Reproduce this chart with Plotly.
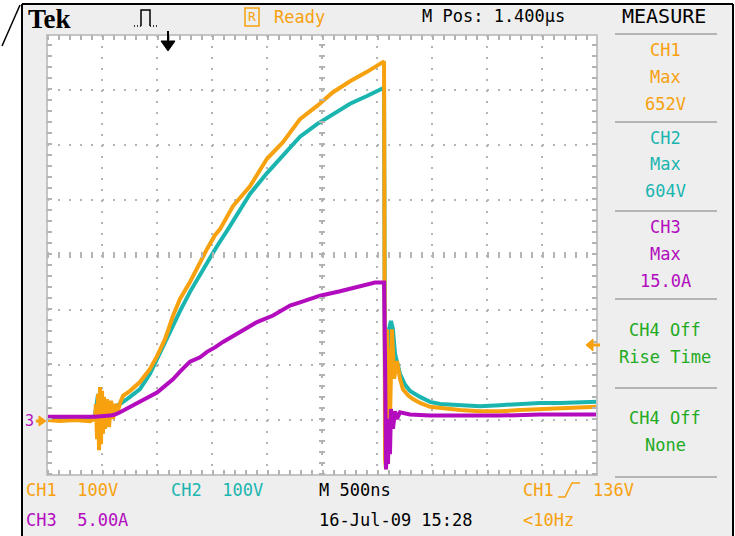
import plotly.graph_objects as go

# ---------------- data ----------------
# time in ns relative to the trigger point (500 ns/div, M Pos 1.400 us)
ch1_t = [-1100, -982, -845, -709, -664, -655, -645, -636, -627, -618, -609, -600, -591, -582,
         -573, -555, -536, -518, -500, -482, -455, -436, -409, -345, -255, -164, -100, -27,
         45, 109, 200, 291, 355, 427, 473, 591, 745, 900, 1045, 1200, 1355, 1500, 1655, 1809,
         1955, 1964, 1973, 1982, 1991, 2000, 2009, 2018, 2036, 2055, 2082, 2109, 2136, 2182,
         2227, 2291, 2382, 2473, 2655, 2836, 3018, 3200, 3382, 3564, 3745, 3900]
ch1_v = [0, -2, 0, -2, 2, 29, -35, 47, -55, 60, -44, 53, -25, 42,
         -16, 38, -13, 35, 2, 29, 16, 31, 44, 53, 69, 93, 116, 147,
         189, 220, 251, 287, 311, 336, 347, 389, 425, 475, 505, 547, 571, 596, 616, 633,
         649, 652, -71, -89, 165, -35, 129, 2, 165, 75, 107, 75, 56, 45,
         38, 31, 24, 22, 18, 16, 16, 18, 20, 22, 24, 24]

ch2_t = [-1100, -891, -709, -664, -636, -618, -591, -564, -527, -482, -436, -345, -255, -164,
         -100, -27, 45, 109, 200, 291, 355, 445, 536, 591, 745, 900, 1045, 1200, 1355, 1500,
         1655, 1809, 1955, 1964, 1973, 1982, 1991, 2009, 2027, 2045, 2064, 2091, 2109, 2155,
         2200, 2291, 2382, 2473, 2655, 2836, 3018, 3200, 3382, 3564, 3745, 3900]
ch2_v = [5, 5, 5, 7, 47, 29, 38, 20, 29, 24, 29, 42, 56, 84,
         111, 138, 171, 198, 233, 264, 287, 316, 344, 362, 411, 449, 480, 515, 538, 556,
         575, 589, 602, 604, 38, -44, 75, 165, 180, 165, 120, 102, 84, 64,
         53, 42, 33, 29, 27, 25, 27, 29, 31, 31, 33, 33]

ch3_t = [-1100, -891, -664, -527, -482, -436, -345, -255, -164, -100, -27, 45, 109, 200,
         291, 355, 427, 500, 655, 809, 955, 1109, 1200, 1382, 1564, 1745, 1882, 1955, 1964,
         1973, 1982, 1991, 2000, 2009, 2018, 2027, 2045, 2064, 2082, 2109, 2200, 2382, 2655,
         3018, 3382, 3745, 3900]
ch3_a = [0.3, 0.3, 0.3, 0.4, 0.5, 0.7, 1.2, 1.6, 2.1, 2.5, 3.1, 3.7, 4.4, 5.3,
         5.7, 6.2, 6.6, 7.1, 8.0, 8.9, 9.5, 10.4, 10.7, 11.3, 11.7, 12.2, 12.5, 12.5, 12.5,
         5.5, -4.5, -1.7, -4.0, 0.1, -3.1, 1.0, -0.8, 0.8, 0.1, 0.7, 0.5, 0.4, 0.4,
         0.4, 0.5, 0.5, 0.5]

x_range = [-1100, 3900]   # 10 div x 500 ns
v_range = [-100, 700]     # 8 div x 100 V
a_range = [-5, 35]        # 8 div x 5 A

measure_text = ["CH1", "Max", "652V", "CH2", "Max", "604V", "CH3", "Max", "15.0A",
                "CH4 Off", "Rise Time", "CH4 Off", "None"]

# ---------------- styling ----------------
ORANGE = "#f7a10f"
CYAN = "#1bb5b0"
PURPLE = "#b20cbe"
GREEN = "#22aa22"
GRID = "#b3b3b3"
PANEL = "#eeeeee"
MONO = "DejaVu Sans Mono"

W, H = 735, 536
L, R, T, B = 47, 597, 35, 475
PW, PH = R - L, B - T


def fx(x):
    return (x - L) / PW


def fy(y):
    return (B - y) / PH


def ann(text, x, y, color, size=17, anchor="left", family=MONO):
    return dict(text=text, x=fx(x), y=fy(y), xref="paper", yref="paper",
                xanchor=anchor, yanchor="middle", showarrow=False,
                font=dict(family=family, size=size, color=color))


def pline(x0, y0, x1, y1, color, width, dash="solid", layer="above"):
    return dict(type="line", xref="paper", yref="paper", x0=fx(x0), y0=fy(y0),
                x1=fx(x1), y1=fy(y1), layer=layer,
                line=dict(color=color, width=width, dash=dash))


def ppath(points, color, fill=None, width=1.5, close=False):
    d = "M " + " L ".join(f"{fx(x):.5f},{fy(y):.5f}" for x, y in points)
    if close:
        d += " Z"
    return dict(type="path", xref="paper", yref="paper", path=d, layer="above",
                fillcolor=fill if fill else "rgba(0,0,0,0)",
                line=dict(color=color, width=width))


fig = go.Figure()
fig.add_trace(go.Scatter(x=ch2_t, y=ch2_v, mode="lines", line=dict(color=CYAN, width=4),
                         hoverinfo="skip"))
fig.add_trace(go.Scatter(x=ch1_t, y=ch1_v, mode="lines", line=dict(color=ORANGE, width=4),
                         hoverinfo="skip"))
fig.add_trace(go.Scatter(x=ch3_t, y=ch3_a, mode="lines", yaxis="y2",
                         line=dict(color=PURPLE, width=4), hoverinfo="skip"))

shapes = []
# white outside of the instrument frame
shapes.append(dict(type="rect", xref="paper", yref="paper", x0=fx(0), x1=fx(21.5), y0=fy(536),
                   y1=fy(0), fillcolor="white", line=dict(width=0), layer="below"))
shapes.append(dict(type="rect", xref="paper", yref="paper", x0=fx(0), x1=fx(735), y0=fy(3.5),
                   y1=fy(0), fillcolor="white", line=dict(width=0), layer="below"))
shapes.append(dict(type="rect", xref="paper", yref="paper", x0=fx(734), x1=fx(735), y0=fy(536),
                   y1=fy(0), fillcolor="white", line=dict(width=0), layer="below"))
# graticule border
shapes.append(dict(type="rect", xref="paper", yref="paper", x0=0, x1=1, y0=0, y1=1,
                   line=dict(color="#c4c4c4", width=2), layer="above"))
# edge ticks
shapes.append(pline(L + 2.5, B, L + 2.5, T, GRID, 5, "2px,9px"))
shapes.append(pline(R - 2.5, B, R - 2.5, T, GRID, 5, "2px,9px"))
shapes.append(pline(L, T + 2.5, R, T + 2.5, GRID, 5, "2px,9px"))
shapes.append(pline(L, B - 2.5, R, B - 2.5, GRID, 5, "2px,9px"))
# centre line ticks
shapes.append(dict(type="line", xref="x", yref="y", x0=1400, x1=1400, y0=v_range[0],
                   y1=v_range[1], layer="above",
                   line=dict(color=GRID, width=6, dash="2px,9px")))
shapes.append(dict(type="line", xref="x", yref="y", x0=x_range[0], x1=x_range[1], y0=300,
                   y1=300, layer="above", line=dict(color=GRID, width=6, dash="2px,9px")))
# measure panel separators
for sy in [34, 122, 211, 299, 388, 477]:
    shapes.append(pline(615, sy, 717, sy, "#b4b4b4", 2))
# black instrument frame
shapes.append(pline(22, 4, 733, 4, "black", 2))
shapes.append(pline(22, 4, 22, 536, "black", 2))
shapes.append(pline(733, 4, 733, 536, "black", 2))
shapes.append(pline(2, 46, 20, 5, "black", 1.5))
# trigger icon
shapes.append(ppath([(141, 26), (141, 10), (150, 10), (150, 26)], "black", width=1.5))
shapes.append(pline(134, 26, 141, 26, "black", 1.5, "1px,2px"))
shapes.append(pline(150, 26, 158, 26, "black", 1.5, "1px,2px"))
# trigger position marker
shapes.append(pline(168, 31, 168, 44, "black", 2))
shapes.append(ppath([(161, 41), (175, 41), (168, 51)], "black", fill="black", width=1, close=True))
# "R" box
shapes.append(dict(type="rect", xref="paper", yref="paper", x0=fx(245), x1=fx(259),
                   y0=fy(26), y1=fy(8), line=dict(color=ORANGE, width=1.5), layer="above"))
# rising edge symbol
shapes.append(ppath([(558, 497), (565, 497), (572, 483), (580, 483)], ORANGE, width=1.5))
# ground marker arrow (left) and trigger level arrow (right)
shapes.append(ppath([(36, 421), (39, 421)], ORANGE, width=3))
shapes.append(ppath([(39, 416), (46, 421), (39, 426)], ORANGE, fill=ORANGE, width=1, close=True))
shapes.append(ppath([(593, 345), (600, 345)], ORANGE, width=3))
shapes.append(ppath([(593, 339), (586, 345), (593, 351)], ORANGE, fill=ORANGE, width=1, close=True))

nb = "\u00a0"
annotations = [
    ann("<b>Tek</b>", 26, 19, "black", 27, family="Liberation Serif"),
    ann("R", 252, 17, ORANGE, 13, "center"),
    ann("Ready", 272, 17, ORANGE),
    ann("M Pos: 1.400µs", 420, 16, "black"),
    ann("MEASURE", 664, 16, "black", 20, "center"),
    ann("3", 29, 421, PURPLE, 15, "center"),
    ann("CH1" + nb * 2 + "100V", 24, 490, ORANGE),
    ann("CH2" + nb * 2 + "100V", 169, 490, CYAN),
    ann("M 500ns", 317, 490, "black"),
    ann("CH1", 521, 490, ORANGE),
    ann("136V", 591, 490, ORANGE),
    ann("CH3" + nb * 2 + "5.00A", 24, 520, PURPLE),
    ann("16-Jul-09 15:28", 317, 520, "black"),
    ann("<10Hz", 521, 520, ORANGE),
]
m_rows = [50, 77, 104, 138, 164, 191, 227, 254, 281, 330, 357, 418, 445]
m_cols = [ORANGE] * 3 + [CYAN] * 3 + [PURPLE] * 3 + [GREEN] * 4
for txt, yy, cc in zip(measure_text, m_rows, m_cols):
    annotations.append(ann(txt.replace(" ", nb), 665, yy, cc, 17, "center"))

axis_common = dict(showticklabels=False, ticks="", zeroline=False, showline=False,
                   fixedrange=True)
fig.update_layout(
    width=W, height=H,
    margin=dict(l=L, r=W - R, t=T, b=H - B, pad=0),
    paper_bgcolor=PANEL, plot_bgcolor="white",
    showlegend=False,
    xaxis=dict(range=x_range, tick0=x_range[0], dtick=500, showgrid=True, gridcolor=GRID,
               gridwidth=2, griddash="2px,9px", **axis_common),
    yaxis=dict(range=v_range, tick0=v_range[0], dtick=100, showgrid=True, gridcolor=GRID,
               gridwidth=2, griddash="2px,9px", **axis_common),
    yaxis2=dict(range=a_range, overlaying="y", showgrid=False, **axis_common),
    shapes=shapes,
    annotations=annotations,
)

fig.write_html("out.html")
